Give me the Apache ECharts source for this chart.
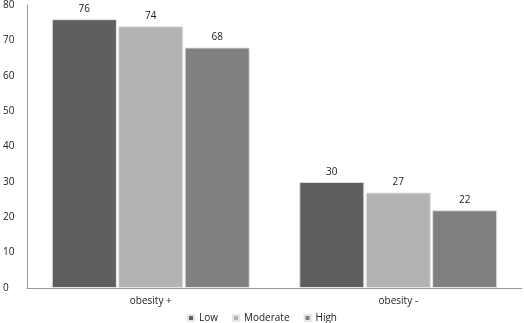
<!DOCTYPE html>
<html><head><meta charset="utf-8">
<script src="https://cdn.jsdelivr.net/npm/echarts@6/dist/echarts.min.js"></script>
<style>html,body{margin:0;padding:0;background:#fff}#c{width:524px;height:323px}</style>
</head><body><div id="c"></div>
<script>
var categories = ['obesity +', 'obesity -'];
var seriesNames = ['Low', 'Moderate', 'High'];
var lowValues = [76, 30];
var moderateValues = [74, 27];
var highValues = [68, 22];
var yTicks = [0, 10, 20, 30, 40, 50, 60, 70, 80];
var colors = ['#5f5f5f', '#b3b3b3', '#808080'];
var font = 'Open Sans';
function mk(name, data, color) {
  return {
    name: name, type: 'bar', data: data, barGap: '2%', barCategoryGap: '20%',
    itemStyle: {color: color, borderColor: '#e6e6e6', borderWidth: 1},
    label: {show: true, position: 'top', distance: 5, color: '#222', fontFamily: font, fontSize: 10}
  };
}
var chart = echarts.init(document.getElementById('c'));
chart.setOption({
  animation: false,
  color: colors,
  grid: {left: 24, right: 2, top: 3, bottom: 35},
  legend: {top: 313, left: 'center', padding: 0, itemWidth: 6, itemHeight: 6, itemGap: 14, icon: 'rect',
    textStyle: {fontFamily: font, fontSize: 10, color: '#222'}, data: seriesNames},
  xAxis: {type: 'category', data: categories,
    axisLine: {lineStyle: {color: '#9a9a9a'}}, axisTick: {show: false},
    axisLabel: {fontFamily: font, fontSize: 10, color: '#222', margin: 8}},
  yAxis: {type: 'value', min: yTicks[0], max: yTicks[yTicks.length - 1], interval: 10,
    axisLine: {show: true, lineStyle: {color: '#9a9a9a'}}, axisTick: {show: false},
    splitLine: {show: false},
    axisLabel: {fontFamily: font, fontSize: 10, color: '#222', align: 'left', margin: 24}},
  series: [mk(seriesNames[0], lowValues, colors[0]), mk(seriesNames[1], moderateValues, colors[1]), mk(seriesNames[2], highValues, colors[2])]
});
</script></body></html>
